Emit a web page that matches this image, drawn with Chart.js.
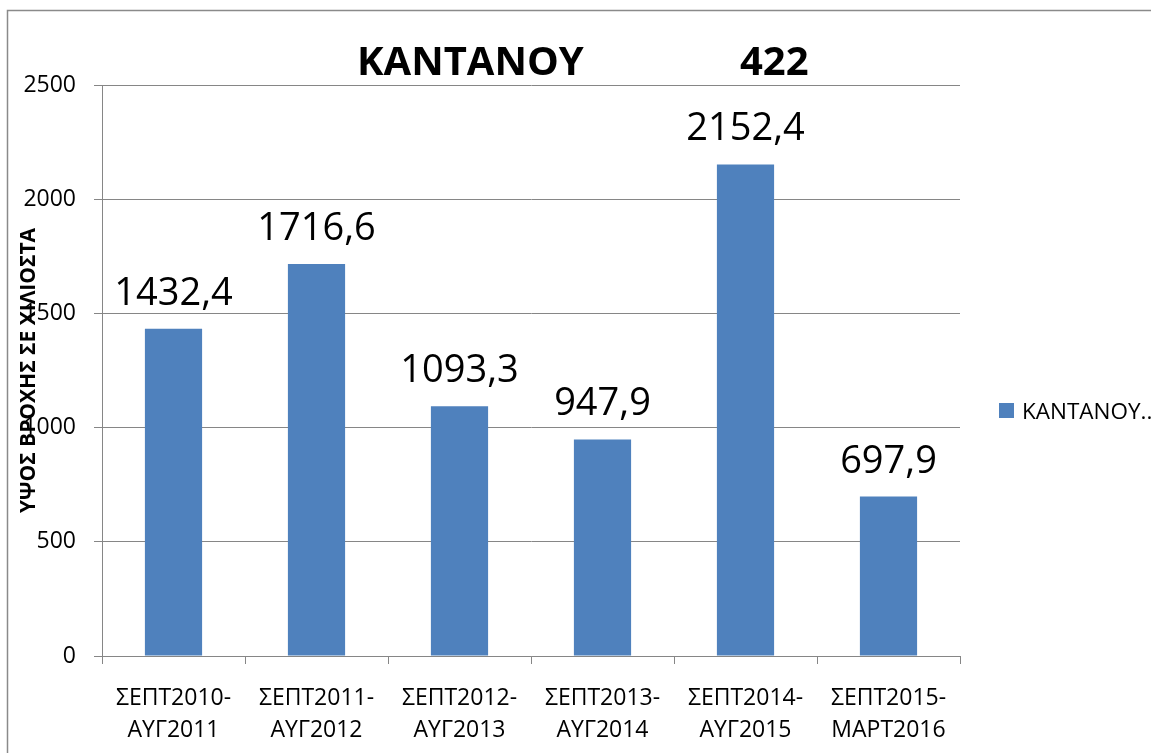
<!DOCTYPE html>
<html>
<head>
<meta charset="utf-8">
<script src="https://cdn.jsdelivr.net/npm/chart.js@4.4.1/dist/chart.umd.min.js"></script>
<style>
html,body{margin:0;padding:0;background:#fff;overflow:hidden;}
canvas{display:block;}
</style>
</head>
<body>
<canvas id="c" width="1151" height="753"></canvas>
<script>
const categories = [
  ['ΣΕΠΤ2010-','ΑΥΓ2011'],
  ['ΣΕΠΤ2011-','ΑΥΓ2012'],
  ['ΣΕΠΤ2012-','ΑΥΓ2013'],
  ['ΣΕΠΤ2013-','ΑΥΓ2014'],
  ['ΣΕΠΤ2014-','ΑΥΓ2015'],
  ['ΣΕΠΤ2015-','ΜΑΡΤ2016']
];
const rainfall = [1432.4, 1716.6, 1093.3, 947.9, 2152.4, 697.9];
const seriesName = 'ΚΑΝΤΑΝΟΥ...';
const titleParts = ['ΚΑΝΤΑΝΟΥ', '422'];
const yAxisTitle = 'ΥΨΟΣ ΒΡΟΧΗΣ ΣΕ ΧΙΛΙΟΣΤΑ';
const yTicks = [0, 500, 1000, 1500, 2000, 2500];

const FONT = "'Open Sans', 'Noto Sans', sans-serif";
const BAR = '#4F81BD';
const GRID = '#868686';

const decorations = {
  id: 'decorations',
  beforeDraw(chart) {
    const ctx = chart.ctx;
    ctx.save();
    ctx.fillStyle = '#fff';
    ctx.fillRect(0, 0, chart.width, chart.height);
    ctx.strokeStyle = '#8a8a8a';
    ctx.lineWidth = 1.5;
    ctx.strokeRect(7.5, 10.5, 1300, 900);
    ctx.restore();
  },
  afterDraw(chart) {
    const ctx = chart.ctx;
    const area = chart.chartArea;
    ctx.save();
    // title
    ctx.fillStyle = '#000';
    ctx.font = 'bold 40px ' + FONT;
    ctx.textBaseline = 'alphabetic';
    ctx.textAlign = 'left';
    ctx.fillText(titleParts[0], 357, 75);
    ctx.fillText(titleParts[1], 740, 75);
    // y axis title
    ctx.save();
    ctx.translate(35, (area.top + area.bottom) / 2);
    ctx.rotate(-Math.PI / 2);
    ctx.font = 'bold 21px ' + FONT;
    ctx.textAlign = 'center';
    ctx.textBaseline = 'alphabetic';
    ctx.fillText(yAxisTitle, 0, 0);
    ctx.restore();
    // data labels
    const meta = chart.getDatasetMeta(0);
    ctx.font = '38px ' + FONT;
    ctx.textAlign = 'center';
    ctx.textBaseline = 'alphabetic';
    meta.data.forEach((bar, i) => {
      const v = chart.data.datasets[0].data[i];
      ctx.fillText(v.toFixed(1).replace('.', ','), bar.x, bar.y - 24);
    });
    // legend
    ctx.fillStyle = BAR;
    ctx.fillRect(999, 403, 15, 15);
    ctx.fillStyle = '#000';
    ctx.font = '22.5px ' + FONT;
    ctx.textAlign = 'left';
    ctx.fillText(chart.data.datasets[0].label, 1022, 418.5);
    ctx.restore();
  }
};

new Chart(document.getElementById('c'), {
  type: 'bar',
  data: {
    labels: categories,
    datasets: [{
      label: seriesName,
      data: rainfall,
      backgroundColor: BAR,
      borderWidth: 0,
      categoryPercentage: 1,
      barPercentage: 0.4
    }]
  },
  options: {
    responsive: false,
    animation: false,
    devicePixelRatio: 1,
    layout: { padding: { left: 0, top: 85, right: 191, bottom: 0 } },
    plugins: {
      legend: { display: false },
      title: { display: false },
      tooltip: { enabled: false }
    },
    scales: {
      x: {
        offset: true,
        grid: {
          display: true,
          offset: true,
          drawOnChartArea: false,
          drawTicks: true,
          tickLength: 8,
          color: GRID,
          lineWidth: 1
        },
        border: { display: true, color: GRID, width: 1 },
        ticks: {
          color: '#000',
          padding: 18,
          maxRotation: 0,
          autoSkip: false,
          font: { family: FONT, size: 23, lineHeight: 1.39 }
        },
        afterFit(scale) { scale.height = 97; }
      },
      y: {
        min: 0,
        max: 2500,
        afterBuildTicks(scale) { scale.ticks = yTicks.map(v => ({ value: v })); },
        grid: {
          color: GRID,
          lineWidth: 1,
          drawTicks: true,
          tickLength: 8
        },
        border: { display: true, color: GRID, width: 1 },
        ticks: {
          color: '#000',
          padding: 18,
          font: { family: FONT, size: 23 },
          callback: (v) => String(v)
        },
        afterFit(scale) { scale.width = 102; }
      }
    }
  },
  plugins: [decorations]
});
</script>
</body>
</html>
